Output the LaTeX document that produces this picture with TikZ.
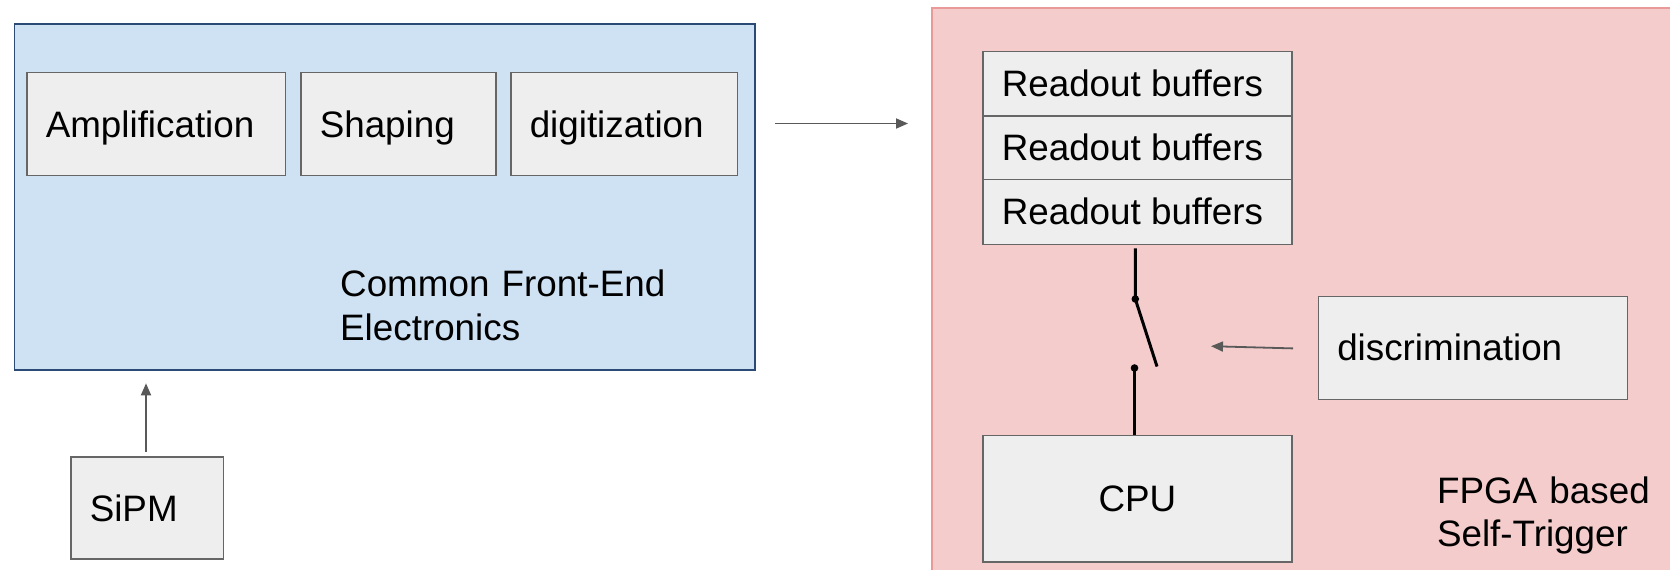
\documentclass[tikz,border=0pt]{standalone}
\usepackage{fontspec}
\setmainfont{Liberation Sans}
\usetikzlibrary{arrows.meta}
\definecolor{feFill}{HTML}{CFE2F3}
\definecolor{feLine}{HTML}{2B4A75}
\definecolor{fpgaFill}{HTML}{F4CCCC}
\definecolor{fpgaLine}{HTML}{EA9999}
\definecolor{blockFill}{HTML}{EEEEEE}
\definecolor{blockLine}{HTML}{666666}
\definecolor{wire}{HTML}{595959}
% left-aligned text in a box of fixed width
\newcommand\leftin[2]{\makebox[#1][l]{#2}}

\begin{document}
\begin{tikzpicture}[x=1pt,y=-1pt,
  font=\fontsize{36.8pt}{43.3pt}\selectfont,
  group/.style={anchor=north west, inner sep=0pt, line width=1.6pt},
  block/.style={draw=blockLine, fill=blockFill, line width=1.5pt,
    anchor=north west, inner xsep=19pt, inner ysep=0pt,
    text height=33.9pt, text depth=7.7pt},
  label/.style={anchor=base west, inner sep=0pt, align=left},
  flow/.style={draw=wire, line width=1.8pt,
    -{Triangle[length=12pt,width=10pt]}},
  switch/.style={draw=black, line width=3pt},
  contact/.style={fill=black}]
  \useasboundingbox (0,0) rectangle (1670,570);
  \clip (0,0) rectangle (1670,570);

  % Front-end group
  \node (fe) [group, draw=feLine, fill=feFill,
    minimum width=740.2pt, minimum height=346pt] at (13.8,23.3) {};
  \node (amp) [block, minimum width=258.7pt, minimum height=103pt]
    at (26,71.7) {\leftin{220.7pt}{Amplification}};
  \node (shp) [block, minimum width=195pt, minimum height=103pt]
    at (300,71.7) {\leftin{157pt}{Shaping}};
  \node (dig) [block, minimum width=226.7pt, minimum height=103pt]
    at (510,71.7) {\leftin{188.7pt}{digitization}};
  \node (felabel) [label, text width=380pt] at (340,296.7)
    {Common Front-End\\Electronics};

  % Sensor
  \node (sipm) [block, minimum width=152.7pt, minimum height=102.3pt]
    at (70,456) {\leftin{114.7pt}{SiPM}};

  % FPGA group
  \node (fpga) [group, draw=fpgaLine, fill=fpgaFill,
    minimum width=780pt, minimum height=600pt] at (931,7) {};
  \node (rb1) [block, minimum width=309.4pt, minimum height=64.1pt]
    at (982,50.9) {\leftin{271.4pt}{Readout buffers}};
  \node (rb2) [block, minimum width=309.4pt, minimum height=63.5pt]
    at (982,115) {\leftin{271.4pt}{Readout buffers}};
  \node (rb3) [block, minimum width=309.4pt, minimum height=65.1pt]
    at (982,178.5) {\leftin{271.4pt}{Readout buffers}};
  \node (cpu) [block, minimum width=309.4pt, minimum height=126.5pt]
    at (982,434.5) {CPU};
  \node (disc) [block, minimum width=309pt, minimum height=103pt]
    at (1317.5,295.6) {\leftin{271pt}{discrimination}};
  \node (fpgalabel) [label, text width=230pt] at (1436.8,503.6)
    {FPGA based\\Self-Trigger};

  % Free ends of the connectors
  \coordinate (feOut) at (775,123.5);
  \coordinate (fpgaIn) at (908,123.5);
  \coordinate (sipmOut) at (146,451.7);
  \coordinate (feIn) at (146,383.3);
  \coordinate (discOut) at (1293,348.4);
  \coordinate (swCtrl) at (1211,346.2);
  \coordinate (swIn) at (1135.3,248.4);
  \coordinate (swPivot) at (1135.3,299);
  \coordinate (swBlade) at (1157,366.5);
  \coordinate (swOut) at (1134.5,368);

  % Data flow
  \draw[flow] (feOut) -- (fpgaIn);
  \draw[flow] (sipmOut) -- (feIn);
  \draw[flow] (discOut) -- (swCtrl);

  % Trigger switch between buffers and CPU
  \draw[switch] (swIn) -- (swPivot) -- (swBlade);
  \draw[switch] (swOut) -- (swOut |- cpu.north);
  \fill[contact] (swPivot) circle (3.8pt);
  \fill[contact] (swOut) circle (3.8pt);
\end{tikzpicture}
\end{document}
